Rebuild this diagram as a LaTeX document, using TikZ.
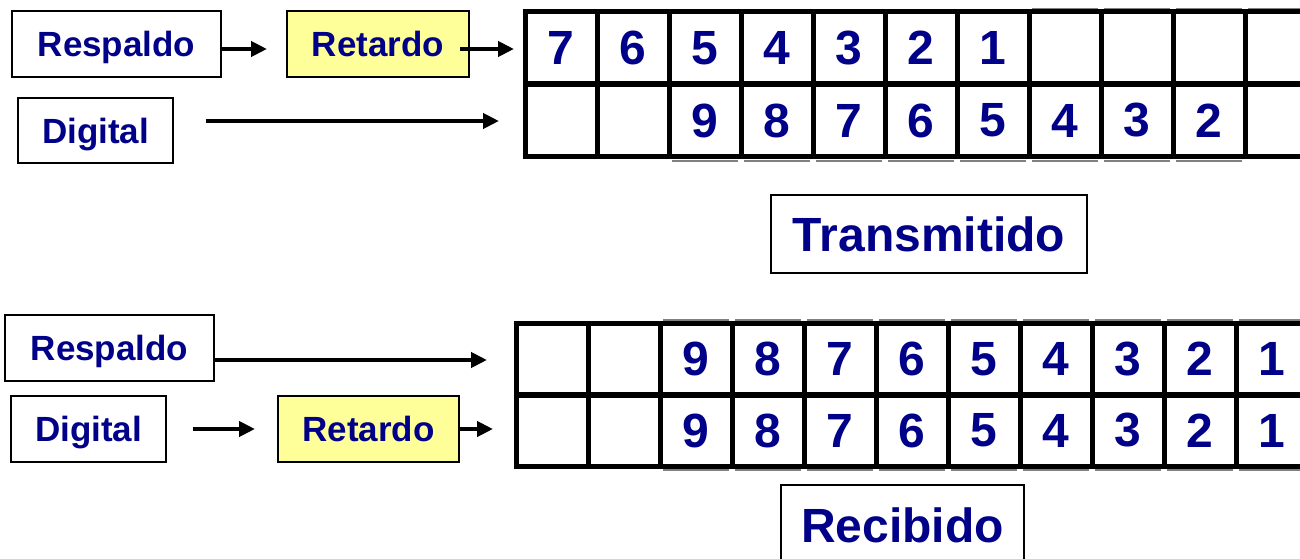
\documentclass[tikz,border=0pt]{standalone}
\usepackage{fontspec}
\setmainfont{Liberation Sans}
\usetikzlibrary{arrows.meta}
\definecolor{txtblue}{RGB}{0,0,136}
\definecolor{ylw}{RGB}{255,255,153}
\begin{document}
\begin{tikzpicture}[x=1pt,y=-1pt,
  lbl/.style={draw, line width=1.6pt, inner sep=0pt, text depth=0pt,
    font=\fontsize{35}{40}\selectfont\bfseries, text=txtblue},
  title/.style={draw, line width=2pt, inner sep=0pt, text depth=0pt,
    font=\fontsize{48}{52}\selectfont\bfseries, text=txtblue},
  delay/.style={lbl, fill=ylw},
  cell/.style={draw, line width=5pt, minimum width=72pt, minimum height=72pt,
    inner sep=0pt, font=\fontsize{48}{50}\selectfont\bfseries, text=txtblue},
  shadow/.style={draw=gray, line width=1.5pt},
  arr/.style={line width=4pt, -{Triangle[length=16pt,width=15pt]}}]
\useasboundingbox (0,0) rectangle (1300,559);
\clip (0,0) rectangle (1300,559);

% ---------- transmitted ----------
\foreach \i in {2,...,9}
  \draw[shadow] (525+72*\i+3,161) -- (525+72*\i+69,161);
\foreach \i in {7,...,10}
  \draw[shadow] (525+72*\i+3,9) -- (525+72*\i+69,9);
\foreach \v [count=\i from 0] in {7,6,5,4,3,2,1,{},{},{},{}}
  \node[cell] (ta\i) at (561+72*\i,48) {\v};
\foreach \v [count=\i from 0] in {{},{},9,8,7,6,5,4,3,2,{}}
  \node[cell] (tb\i) at (561+72*\i,120.5) {\v};

\node[lbl, minimum width=209pt, minimum height=66pt] (resp1) at (116.5,44) {Respaldo};
\node[delay, minimum width=182pt, minimum height=66pt] (ret1) at (378,44) {Retardo};
\node[lbl, minimum width=155pt, minimum height=65pt] (dig1) at (95.5,130.5) {Digital};
\node[title, minimum width=316pt, minimum height=78pt] (trans) at (929,234) {Transmitido};

\coordinate (r1in) at (267,49);
\coordinate (r1out) at (460,49);
\coordinate (r1end) at (514,49);
\coordinate (d1start) at (206,121);
\coordinate (d1end) at (499,121);
\draw[arr] ([yshift=-5pt]resp1.east) -- (r1in);
\draw[arr] (r1out) -- (r1end);
\draw[arr] (d1start) -- (d1end);

% ---------- received ----------
\foreach \i in {2,...,10}{
  \draw[shadow] (516+72*\i+3,470) -- (516+72*\i+69,470);
  \draw[shadow] (516+72*\i+3,320) -- (516+72*\i+69,320);}
\foreach \v [count=\i from 0] in {{},{},9,8,7,6,5,4,3,2,1}
  \node[cell] (ra\i) at (552+72*\i,359) {\v};
\foreach \v [count=\i from 0] in {{},{},9,8,7,6,5,4,3,2,1}
  \node[cell] (rb\i) at (552+72*\i,430.5) {\v};

\node[lbl, minimum width=209pt, minimum height=66pt] (resp2) at (109.5,348) {Respaldo};
\node[lbl, minimum width=155pt, minimum height=66pt] (dig2) at (88.5,429) {Digital};
\node[delay, minimum width=181pt, minimum height=66pt] (ret2) at (368.5,429) {Retardo};
\node[title, minimum width=243pt, minimum height=80pt] (recib) at (902.5,525) {Recibido};

\coordinate (r2end) at (487,360);
\coordinate (d2start) at (193,429);
\coordinate (d2end) at (255,429);
\coordinate (ret2end) at (493,429);
\draw[arr] ([yshift=-12pt]resp2.east) -- (r2end);
\draw[arr] (d2start) -- (d2end);
\draw[arr] (ret2.east) -- (ret2end);
\end{tikzpicture}
\end{document}
